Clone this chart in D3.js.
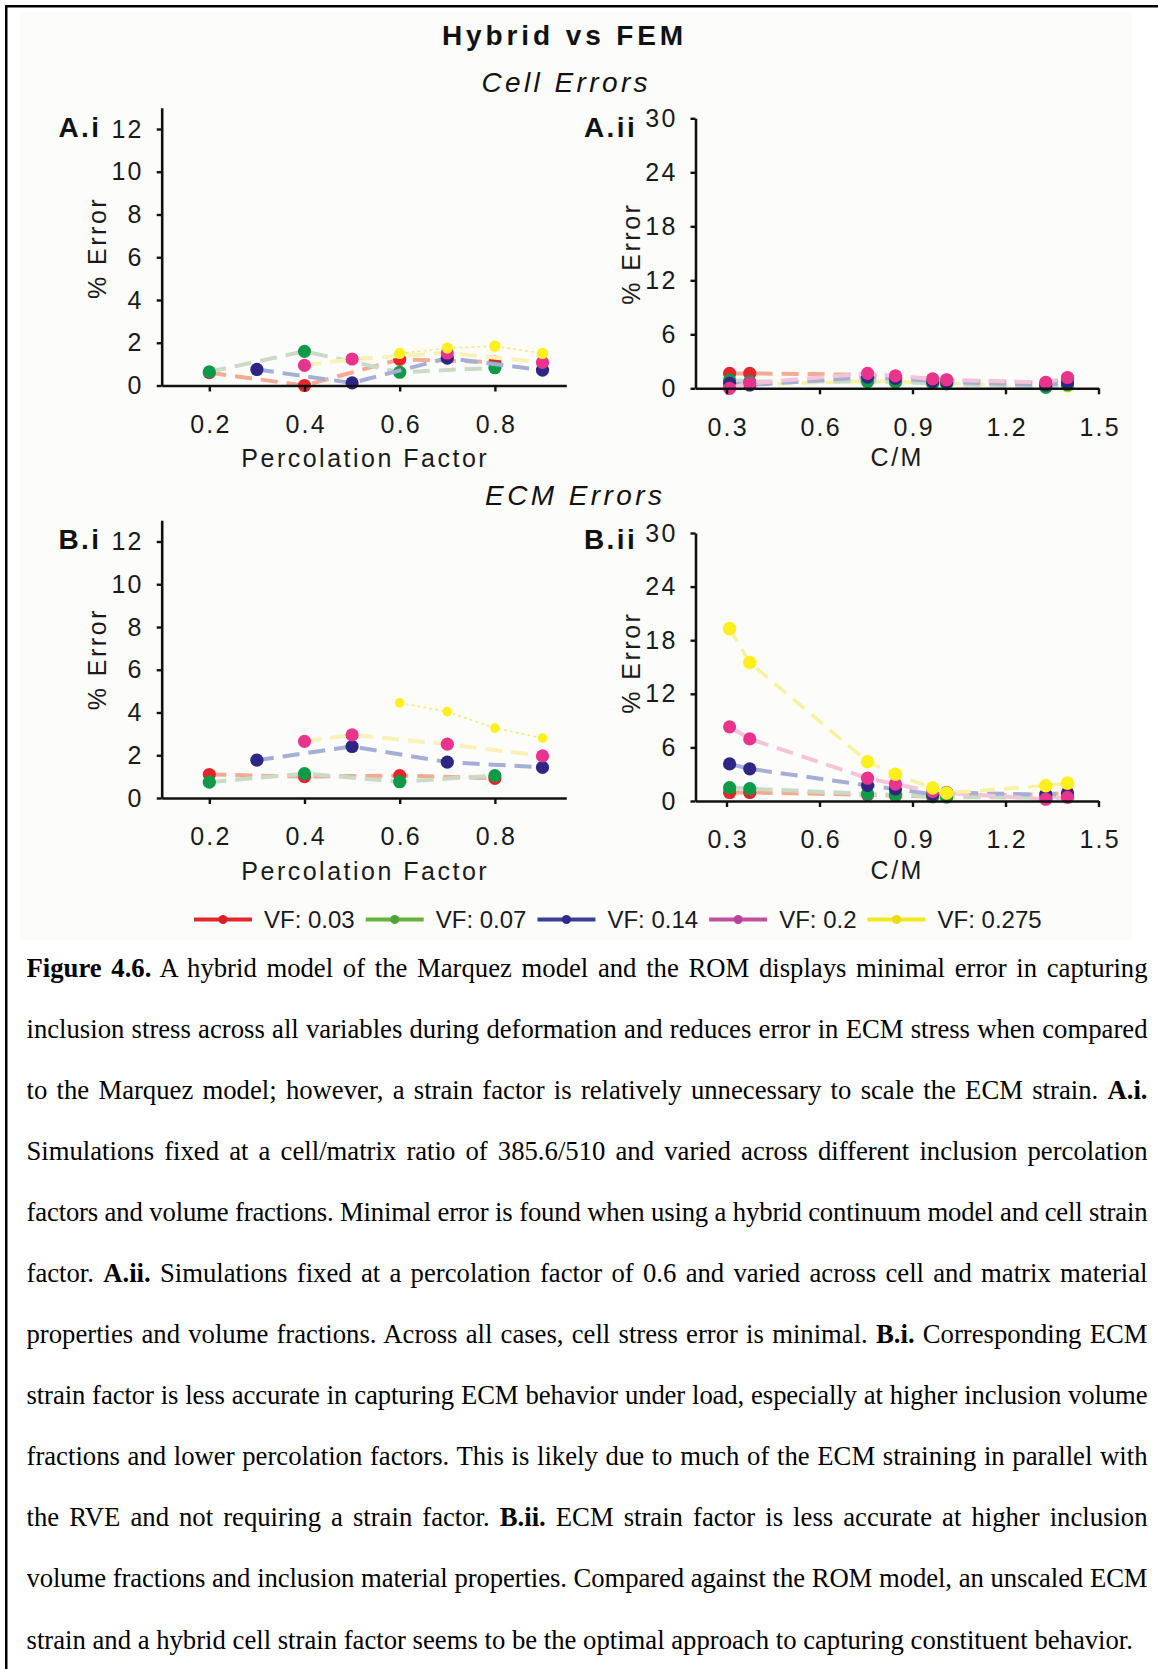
<!DOCTYPE html>
<html><head><meta charset="utf-8">
<script src="https://cdn.jsdelivr.net/npm/d3@7"></script>
<style>
body{margin:0;background:#fff;}
#wrap{position:relative;width:1158px;height:1669px;overflow:hidden;background:#fff;}
svg{position:absolute;left:0;top:0;}
#cap{position:absolute;left:26.5px;top:938px;width:1121px;font-family:"Liberation Serif","Times New Roman",serif;font-size:26.7px;color:#000;}
#cap div{height:61.05px;line-height:61.05px;text-align:justify;text-align-last:justify;overflow:hidden;}
#cap div.last{text-align-last:left;}
</style></head>
<body><div id="wrap"><div id="cap"></div></div>
<script>
// ---------------- DATA ----------------
const seriesNames = ["VF: 0.03","VF: 0.07","VF: 0.14","VF: 0.2","VF: 0.275"];

// Percolation factor positions per series (panels A.i, B.i)
const percXRed    = [0.2,0.4,0.6,0.8];
const percXGreen  = [0.2,0.4,0.6,0.8];
const percXNavy   = [0.3,0.5,0.7,0.9];
const percXPink   = [0.4,0.5,0.7,0.9];
const percXYellow = [0.6,0.7,0.8,0.9];

// A.i Cell errors vs percolation factor
const cellPercRed    = [0.6,0.0,1.22,1.1];
const cellPercGreen  = [0.64,1.6,0.62,0.83];
const cellPercNavy   = [0.75,0.12,1.28,0.72];
const cellPercPink   = [0.94,1.24,1.52,1.08];
const cellPercYellow = [1.5,1.75,1.84,1.5];

// B.i ECM errors vs percolation factor
const ecmPercRed    = [1.1,1.0,1.05,0.92];
const ecmPercGreen  = [0.74,1.14,0.76,1.05];
const ecmPercNavy   = [1.77,2.41,1.68,1.43];
const ecmPercPink   = [2.65,2.95,2.52,1.97];
const ecmPercYellow = [4.45,4.04,3.27,2.8];

// C/M ratios (panels A.ii, B.ii)
const cmRatio = [0.31,0.375,0.755,0.845,0.965,1.01,1.33,1.40];

// A.ii Cell errors vs C/M
const cellCmRed    = [1.65,1.65,1.5,1.3,1.0,0.9,0.6,1.1];
const cellCmGreen  = [0.92,0.75,0.75,0.7,0.55,0.5,0.1,0.37];
const cellCmNavy   = [0.55,0.37,1.25,1.1,0.8,0.7,0.37,0.62];
const cellCmPink   = [0.0,0.55,1.65,1.38,1.05,0.95,0.65,1.2];
const cellCmYellow = [0.45,0.4,0.8,0.75,0.6,0.55,0.2,0.25];

// B.ii ECM errors vs C/M
const ecmCmRed    = [0.95,0.95,0.7,0.6,0.5,0.5,0.75,0.9];
const ecmCmGreen  = [1.5,1.38,0.8,0.7,0.5,0.45,0.35,0.5];
const ecmCmNavy   = [4.15,3.6,1.75,1.35,0.75,0.95,0.7,0.8];
const ecmCmPink   = [8.3,6.95,2.55,1.9,1.05,0.9,0.2,0.4];
const ecmCmYellow = [19.3,15.5,4.4,3.0,1.45,0.9,1.7,2.0];

// Tick values
const xTicksPerc = [0.2,0.4,0.6,0.8];
const xTicksCm   = [0.3,0.6,0.9,1.2,1.5];
const yTicksPerc = [0,2,4,6,8,10,12];
const yTicksCm   = [0,6,12,18,24,30];

const captionLines = [
 "<b>Figure 4.6.</b> A hybrid model of the Marquez model and the ROM displays minimal error in capturing",
 "inclusion stress across all variables during deformation and reduces error in ECM stress when compared",
 "to the Marquez model; however, a strain factor is relatively unnecessary to scale the ECM strain. <b>A.i.</b>",
 "Simulations fixed at a cell/matrix ratio of 385.6/510 and varied across different inclusion percolation",
 "factors and volume fractions. Minimal error is found when using a hybrid continuum model and cell strain",
 "factor. <b>A.ii.</b> Simulations fixed at a percolation factor of 0.6 and varied across cell and matrix material",
 "properties and volume fractions. Across all cases, cell stress error is minimal. <b>B.i.</b> Corresponding ECM",
 "strain factor is less accurate in capturing ECM behavior under load, especially at higher inclusion volume",
 "fractions and lower percolation factors. This is likely due to much of the ECM straining in parallel with",
 "the RVE and not requiring a strain factor. <b>B.ii.</b> ECM strain factor is less accurate at higher inclusion",
 "volume fractions and inclusion material properties. Compared against the ROM model, an unscaled ECM",
 "strain and a hybrid cell strain factor seems to be the optimal approach to capturing constituent behavior."
];

// ---------------- STYLE ----------------
const FONT = "'Liberation Sans', Arial, Helvetica, sans-serif";
const markerColors = ["#e4262b","#0f9a4a","#2f2582","#e8348c","#fbef1c"];
const lineColorsPerc = ["#f4ab93","#c9dac5","#a4aed6","#f9f1b6","#f1e78a"];
const lineColorsCm   = ["#f4ab93","#c9dac5","#a4aed6","#f6c4d9","#f8f1a2"];
const legendLineColors = ["#e3262a","#67b13a","#3b3e97","#c0509d","#f3e81c"];
const legendDotColors  = ["#d61f26","#4fa33a","#2c2c86","#b8449a","#e9dd12"];

const W = 1158, H = 1669;
const svg = d3.select("#wrap").append("svg").attr("width", W).attr("height", H);

svg.append("rect").attr("x", 20).attr("y", 12).attr("width", 1112).attr("height", 928).attr("fill", "#fcfcfb");
svg.append("rect").attr("x", 6.25).attr("y", 6.25).attr("width", 1300).attr("height", 1800)
  .attr("fill", "none").attr("stroke", "#000").attr("stroke-width", 2.5);

// Titles
svg.append("text").attr("x", 562.5 + 2).attr("y", 45).attr("text-anchor", "middle")
  .attr("font-family", FONT).attr("font-size", 28).attr("font-weight", "bold").attr("letter-spacing", "3.9px")
  .attr("fill", "#111").text("Hybrid vs FEM");
svg.append("text").attr("x", 564.5 + 1.7).attr("y", 91.5).attr("text-anchor", "middle")
  .attr("font-family", FONT).attr("font-size", 28).attr("font-style", "italic").attr("letter-spacing", "3.4px")
  .attr("fill", "#111").text("Cell Errors");
svg.append("text").attr("x", 573.5 + 1.7).attr("y", 505).attr("text-anchor", "middle")
  .attr("font-family", FONT).attr("font-size", 28).attr("font-style", "italic").attr("letter-spacing", "3.4px")
  .attr("fill", "#111").text("ECM Errors");

function buildSeries(xs, ys, kind) {
  const lc = kind === "perc" ? lineColorsPerc : lineColorsCm;
  return ys.map((yv, i) => ({
    idx: i, name: seriesNames[i], x: xs[i], y: yv, color: markerColors[i], lineColor: lc[i]
  }));
}

const panels = [
  { label: "A.i", lx: 58.5, ly: 136.7, xDom: [0.1, 0.95], xRange: [161.7, 566.3], yDom: [0, 13], yRange: [385.5, 385.5 - 13 * 21.375],
    xTicks: xTicksPerc, yTicks: yTicksPerc, xTitle: "Percolation Factor", xtx: 364, xty: 467, ytx: 105.5, yty: 246.7, kind: "perc",
    order: [0,1,2,3,4],
    series: buildSeries([percXRed, percXGreen, percXNavy, percXPink, percXYellow],
      [cellPercRed, cellPercGreen, cellPercNavy, cellPercPink, cellPercYellow], "perc") },
  { label: "A.ii", lx: 584, ly: 136.7, xDom: [0.2, 1.5], xRange: [695.5, 1098.5], yDom: [0, 30], yRange: [388.3, 118.3],
    xTicks: xTicksCm, yTicks: yTicksCm, xTitle: "C/M", xtx: 896, xty: 465.5, ytx: 639.5, yty: 252.5, kind: "cm",
    order: [4,0,1,2,3],
    series: buildSeries([cmRatio, cmRatio, cmRatio, cmRatio, cmRatio],
      [cellCmRed, cellCmGreen, cellCmNavy, cellCmPink, cellCmYellow], "cm") },
  { label: "B.i", lx: 58.5, ly: 548.5, xDom: [0.1, 0.95], xRange: [161.7, 566.3], yDom: [0, 13], yRange: [798, 798 - 13 * 21.375],
    xTicks: xTicksPerc, yTicks: yTicksPerc, xTitle: "Percolation Factor", xtx: 364, xty: 880, ytx: 105.5, yty: 658, kind: "perc",
    order: [0,1,2,3,4],
    series: buildSeries([percXRed, percXGreen, percXNavy, percXPink, percXYellow],
      [ecmPercRed, ecmPercGreen, ecmPercNavy, ecmPercPink, ecmPercYellow], "perc") },
  { label: "B.ii", lx: 584, ly: 548.5, xDom: [0.2, 1.5], xRange: [695.5, 1098.5], yDom: [0, 30], yRange: [801, 533],
    xTicks: xTicksCm, yTicks: yTicksCm, xTitle: "C/M", xtx: 896, xty: 878.5, ytx: 639.5, yty: 661.5, kind: "cm",
    order: [0,1,2,3,4],
    series: buildSeries([cmRatio, cmRatio, cmRatio, cmRatio, cmRatio],
      [ecmCmRed, ecmCmGreen, ecmCmNavy, ecmCmPink, ecmCmYellow], "cm") }
];

function drawPanel(p) {
  const g = svg.append("g");
  const x = d3.scaleLinear().domain(p.xDom).range(p.xRange);
  const y = d3.scaleLinear().domain(p.yDom).range(p.yRange);

  p.order.forEach(k => {
    const s = p.series[k];
    const i = s.idx;
    const pts = s.x.map((xv, j) => [xv, s.y[j]]);
    let lw = 4, dash = "17,9", r = 6.6;
    if (i === 4) {
      if (p.kind === "perc") { lw = 1.6; dash = "3,3"; r = p.label === "B.i" ? 4.8 : 5.6; }
      else { lw = 3.5; dash = "15,9"; r = 6.8; }
    }
    g.append("path")
      .attr("d", d3.line().x(d => x(d[0])).y(d => y(d[1]))(pts))
      .attr("fill", "none").attr("stroke", s.lineColor).attr("stroke-width", lw)
      .attr("stroke-dasharray", dash);
    g.append("g").selectAll("circle").data(pts).join("circle")
      .attr("cx", d => x(d[0])).attr("cy", d => y(d[1])).attr("r", r).attr("fill", s.color);
  });

  const ya = g.append("g").attr("transform", `translate(${p.xRange[0]},0)`)
    .call(d3.axisLeft(y).tickValues(p.yTicks).tickSize(5).tickSizeOuter(0).tickPadding(13).tickFormat(d3.format("d")));
  const xa = g.append("g").attr("transform", `translate(0,${p.yRange[0]})`)
    .call(d3.axisBottom(x).tickValues(p.xTicks).tickSize(6).tickSizeOuter(0).tickPadding(23.5).tickFormat(d3.format(".1f")));
  [ya, xa].forEach(a => {
    a.attr("font-family", FONT).attr("font-size", 25);
    a.select(".domain").attr("stroke", "#111").attr("stroke-width", 2.6);
    a.selectAll(".tick line").attr("stroke", "#111").attr("stroke-width", 2.4);
    a.selectAll(".tick text").attr("fill", "#1a1a1a").attr("letter-spacing", "2.2px");
  });
  xa.selectAll(".tick text").attr("dx", 1.1);

  g.append("text").attr("x", p.xtx + 1.25).attr("y", p.xty).attr("text-anchor", "middle")
    .attr("font-family", FONT).attr("font-size", 25).attr("letter-spacing", "2.5px").attr("fill", "#1a1a1a")
    .text(p.xTitle);
  g.append("text").attr("transform", `translate(${p.ytx},${p.yty + 1.25}) rotate(-90)`).attr("text-anchor", "middle")
    .attr("font-family", FONT).attr("font-size", 25).attr("letter-spacing", "2.5px").attr("fill", "#1a1a1a")
    .text("% Error");
  g.append("text").attr("x", p.lx).attr("y", p.ly)
    .attr("font-family", FONT).attr("font-size", 28).attr("font-weight", "bold").attr("letter-spacing", "2.4px").attr("fill", "#111")
    .text(p.label);
}
panels.forEach(drawPanel);

// Legend
const leg = svg.append("g");
let lx = 194;
const legY = 919.5;
seriesNames.forEach((n, i) => {
  leg.append("line").attr("x1", lx).attr("x2", lx + 58).attr("y1", legY).attr("y2", legY)
    .attr("stroke", legendLineColors[i]).attr("stroke-width", 4);
  leg.append("circle").attr("cx", lx + 29).attr("cy", legY).attr("r", 4.5).attr("fill", legendDotColors[i]);
  const t = leg.append("text").attr("x", lx + 70).attr("y", legY + 8.7)
    .attr("font-family", FONT).attr("font-size", 24).attr("fill", "#1a1a1a").text(n);
  lx = lx + 70 + t.node().getComputedTextLength() + 11;
});

// Caption
const cap = d3.select("#cap");
captionLines.forEach((l, i) => {
  const d = cap.append("div").html(l);
  if (i === captionLines.length - 1) d.classed("last", true);
  const node = d.node();
  let ls = 0, guard = 0;
  while (node.scrollHeight > 62 && guard < 40) { ls -= 0.05; node.style.letterSpacing = ls + "px"; guard++; }
});
</script>
</body></html>
